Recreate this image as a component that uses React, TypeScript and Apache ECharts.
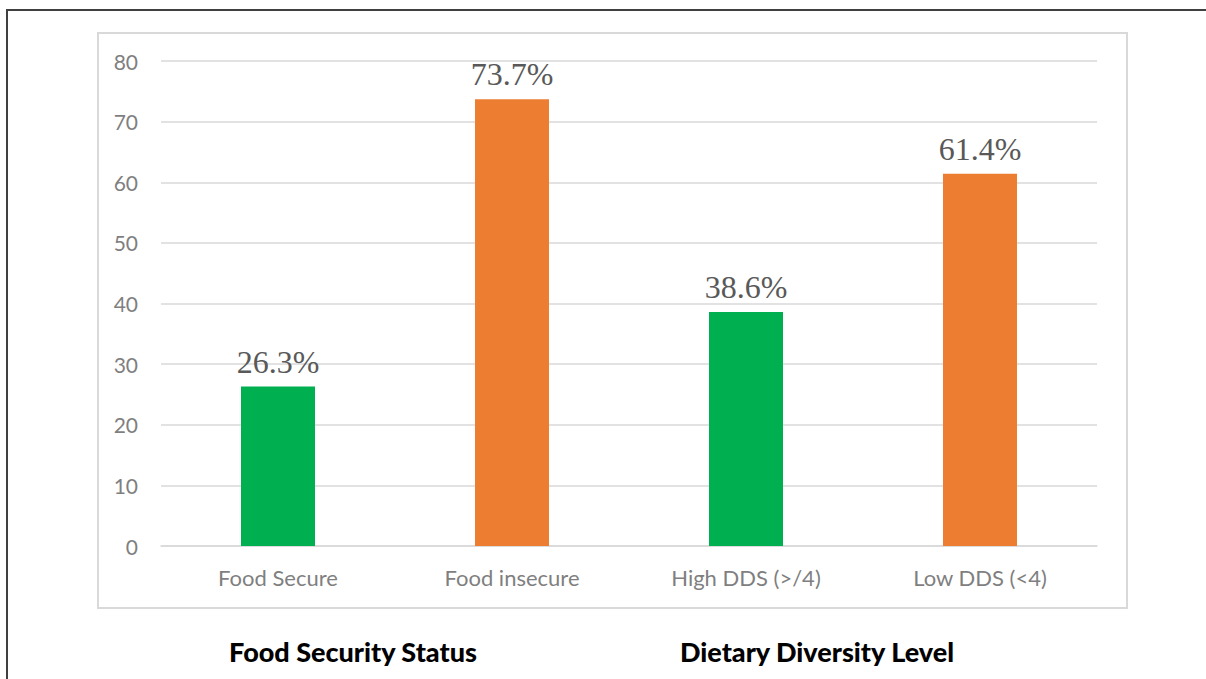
import React, { useEffect, useRef } from "react";
import * as echarts from "echarts";

// Categories, percentages and bar colours
const categories = ["Food Secure", "Food insecure", "High DDS (>/4)", "Low DDS (<4)"];
const percentages = [26.3, 73.7, 38.6, 61.4];
const barColors = ["#00B050", "#ED7D31", "#00B050", "#ED7D31"];
const groupTitles = ["Food Security Status", "Dietary Diversity Level"];
const yTicks = { min: 0, max: 80, interval: 10 };

export default function App() {
  const ref = useRef<HTMLDivElement>(null);

  useEffect(() => {
    document.body.style.margin = "0";
    const chart = echarts.init(ref.current!, null, { renderer: "svg" });
    chart.setOption({
      animation: false,
      backgroundColor: "#ffffff",
      grid: { left: 161, right: 109, top: 61, bottom: 133, containLabel: false },
      xAxis: {
        type: "category",
        data: categories,
        axisLine: { show: true, lineStyle: { color: "#d9d9d9", width: 1.5 } },
        axisTick: { show: false },
        axisLabel: {
          margin: 20,
          color: "#7f7f7f",
          fontFamily: "Lato",
          fontSize: 22,
        },
      },
      yAxis: {
        type: "value",
        min: yTicks.min,
        max: yTicks.max,
        interval: yTicks.interval,
        axisLine: { show: false },
        axisTick: { show: false },
        splitLine: { lineStyle: { color: "#d9d9d9", width: 1.5 } },
        axisLabel: {
          margin: 23,
          color: "#7f7f7f",
          fontFamily: "Lato",
          fontSize: 21,
        },
      },
      series: [
        {
          type: "bar",
          barWidth: 74,
          data: percentages.map((v, i) => ({
            value: v,
            itemStyle: { color: barColors[i] },
          })),
          label: {
            show: true,
            position: "top",
            distance: 9,
            formatter: (p: any) => `${p.value.toFixed(1)}%`,
            color: "#595959",
            fontFamily: "Liberation Serif",
            fontSize: 32,
          },
        },
      ],
      graphic: [
        {
          type: "rect",
          shape: { x: 7, y: 10, width: 1300, height: 800 },
          style: { fill: "none", stroke: "#404040", lineWidth: 2 },
          silent: true,
        },
        {
          type: "rect",
          shape: { x: 98, y: 33, width: 1029, height: 575 },
          style: { fill: "none", stroke: "#d9d9d9", lineWidth: 2 },
          silent: true,
        },
        {
          type: "text",
          x: 353,
          y: 651,
          style: {
            text: groupTitles[0],
            fill: "#000000",
            font: "900 27px Lato",
            align: "center",
            verticalAlign: "middle",
          },
        },
        {
          type: "text",
          x: 817,
          y: 651,
          style: {
            text: groupTitles[1],
            fill: "#000000",
            font: "900 27px Lato",
            align: "center",
            verticalAlign: "middle",
          },
        },
      ],
    });
    return () => chart.dispose();
  }, []);

  return <div ref={ref} style={{ width: 1206, height: 679 }} />;
}
